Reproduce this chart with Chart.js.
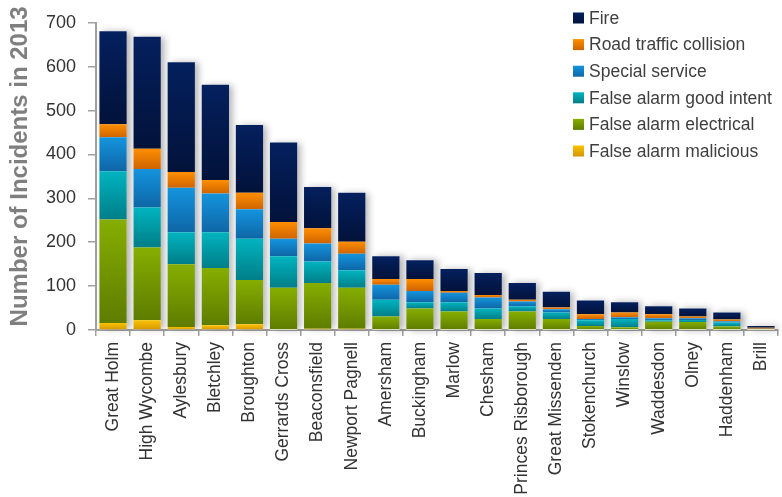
<!DOCTYPE html>
<html><head><meta charset="utf-8">
<script src="https://cdn.jsdelivr.net/npm/chart.js@4/dist/chart.umd.min.js"></script>
<style>html,body{margin:0;padding:0;overflow:hidden;background:#fff}#wrap{width:788px;height:497px;overflow:hidden}</style>
</head><body><div id="wrap"><canvas id="c" width="788" height="497"></canvas></div>
<script>
const categories = ["Great Holm","High Wycombe","Aylesbury","Bletchley","Broughton","Gerrards Cross","Beaconsfield","Newport Pagnell","Amersham","Buckingham","Marlow","Chesham","Princes Risborough","Great Missenden","Stokenchurch","Winslow","Waddesdon","Olney","Haddenham","Brill"];
const falseAlarmMalicious = [16,22,7,11,13,0,3,3,0,0,0,0,0,0,0,0,0,0,0,0];
const falseAlarmElectrical = [236,166,143,130,101,96,104,93,31,49,42,25,42,25,9,6,19,18,8,2];
const falseAlarmGoodIntent = [110,91,73,82,94,72,49,40,38,14,21,24,12,15,13,19,3,5,9,0];
const specialService = [77,88,101,88,67,40,41,38,34,26,22,25,11,7,3,4,5,4,3,1];
const roadTrafficCollision = [30,46,36,31,38,38,35,27,13,27,4,6,4,4,11,11,9,4,4,2];
const fire = [212,255,250,217,154,181,94,112,52,43,50,50,38,36,31,23,18,18,16,4];
const yTicks = [0,100,200,300,400,500,600,700];
const axisTitle = "   Number of Incidents in 2013";

function grad(top, bottom) {
  return function(ctx) {
    const chart = ctx.chart;
    const y = chart.scales && chart.scales.y;
    if (!y || ctx.type !== 'data') return top;
    const di = ctx.datasetIndex, i = ctx.dataIndex;
    let base = 0;
    for (let d = 0; d < di; d++) base += chart.data.datasets[d].data[i];
    const v = chart.data.datasets[di].data[i];
    const y0 = y.getPixelForValue(base + v), y1 = y.getPixelForValue(base);
    if (!isFinite(y0) || !isFinite(y1) || Math.abs(y1 - y0) < 0.5) return bottom;
    const g = chart.ctx.createLinearGradient(0, y0, 0, y1);
    g.addColorStop(0, top); g.addColorStop(1, bottom);
    return g;
  };
}

const series = [
  {label:"False alarm malicious", data:falseAlarmMalicious, top:"rgb(250,194,0)", bottom:"rgb(212,150,0)"},
  {label:"False alarm electrical", data:falseAlarmElectrical, top:"rgb(134,174,0)", bottom:"rgb(94,124,0)"},
  {label:"False alarm good intent", data:falseAlarmGoodIntent, top:"rgb(0,180,192)", bottom:"rgb(0,126,136)"},
  {label:"Special service", data:specialService, top:"rgb(20,148,222)", bottom:"rgb(14,102,166)"},
  {label:"Road traffic collision", data:roadTrafficCollision, top:"rgb(255,142,0)", bottom:"rgb(206,100,0)"},
  {label:"Fire", data:fire, top:"rgb(4,32,94)", bottom:"rgb(2,18,58)"}
];

const shadowPlugin = {
  id:'stackShadow',
  beforeDatasetsDraw(chart){
    const ctx = chart.ctx;
    const metas = chart.getSortedVisibleDatasetMetas();
    const first = metas[0];
    ctx.save();
    ctx.shadowColor = 'rgba(0,0,0,0.30)';
    ctx.shadowBlur = 7;
    ctx.shadowOffsetX = 4;
    ctx.fillStyle = '#fff';
    first.data.forEach((bar, i) => {
      let top = bar.base;
      metas.forEach(m => { top = Math.min(top, m.data[i].y); });
      const w = bar.width;
      ctx.fillRect(bar.x - w/2, top, w, bar.base - top);
    });
    ctx.restore();
  }
};

const legendPlugin = {
  id:'cornerLegend',
  afterDraw(chart){
    const ctx = chart.ctx;
    const ds = chart.data.datasets.slice().reverse();
    ctx.save();
    ctx.font = '17.5px "Liberation Sans", Arial, sans-serif';
    ctx.textBaseline = 'middle';
    ds.forEach((d, k) => {
      const cy = 18 + k * 26.6;
      const g = ctx.createLinearGradient(0, cy-5.5, 0, cy+5.5);
      g.addColorStop(0, d.legendTop); g.addColorStop(1, d.legendBottom);
      ctx.fillStyle = g;
      ctx.fillRect(573, cy - 5.5, 11, 11);
      ctx.fillStyle = '#3f3f3f';
      ctx.fillText(d.label, 589, cy + 1);
    });
    ctx.restore();
  }
};

new Chart(document.getElementById('c'), {
  type:'bar',
  data:{
    labels: categories,
    datasets: series.map(s => ({
      label: s.label, data: s.data,
      backgroundColor: grad(s.top, s.bottom),
      legendTop: s.top, legendBottom: s.bottom,
      borderWidth: 0,
      barPercentage: 0.8, categoryPercentage: 1.0
    }))
  },
  options:{
    responsive:false, animation:false, devicePixelRatio:1,
    layout:{padding:{top:17, right:0, left:0, bottom:0}},
    plugins:{legend:{display:false}, tooltip:{enabled:false}},
    scales:{
      x:{
        stacked:true,
        grid:{drawOnChartArea:false, offset:true, tickLength:6, color:'#a0a0a0', lineWidth:1.5},
        border:{color:'#a0a0a0', width:2},
        ticks:{minRotation:90, maxRotation:90, autoSkip:false, padding:6, color:'#333',
               font:{family:'"Liberation Sans", Arial', size:17.5}},
        afterFit(scale){ scale.height = 167; }
      },
      y:{
        stacked:true, min:0, max:700,
        afterBuildTicks(scale){ scale.ticks = yTicks.map(v => ({value:v})); },
        grid:{drawOnChartArea:false, tickLength:8, color:'#a0a0a0', lineWidth:1.5},
        border:{color:'#a0a0a0', width:2},
        ticks:{padding:12, color:'#333', font:{family:'"Liberation Sans", Arial', size:18}},
        title:{display:true, text:axisTitle, color:'#7f7f7f', padding:{top:6,bottom:0},
               font:{family:'"Liberation Sans", Arial', size:24, weight:'bold'}},
        afterFit(scale){ scale.width = 96; }
      }
    }
  },
  plugins:[shadowPlugin, legendPlugin]
});
</script></body></html>
